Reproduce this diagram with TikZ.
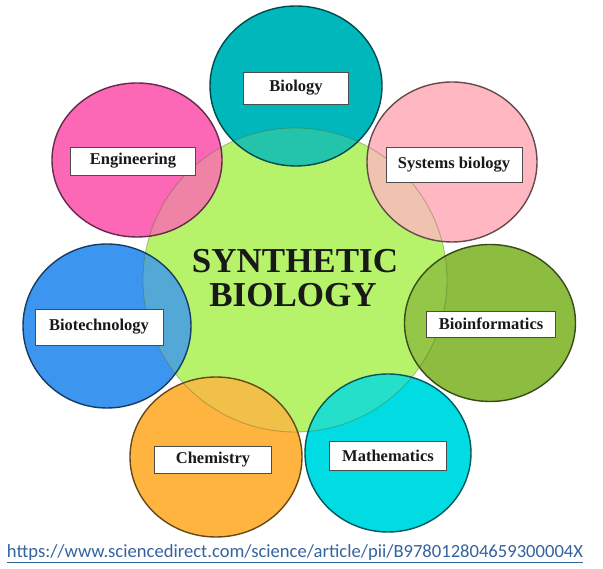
\documentclass[tikz,border=0pt]{standalone}
\usepackage{fontspec}
\setmainfont{Liberation Serif}
\newfontfamily\urlfont{Carlito}
\usetikzlibrary{shapes.geometric}
\definecolor{cgreen}{RGB}{182,242,106}
\definecolor{cteal}{RGB}{0,184,188}
\definecolor{cpink}{RGB}{252,104,182}
\definecolor{clpink}{RGB}{255,184,194}
\definecolor{cblue}{RGB}{60,150,240}
\definecolor{colive}{RGB}{140,188,64}
\definecolor{corange}{RGB}{255,180,64}
\definecolor{ccyan}{RGB}{0,220,226}
\definecolor{curl}{RGB}{52,100,160}
\tikzset{
  petalfill/.style n args={3}{ellipse, fill=#1, minimum width=#2, minimum height=#3, inner sep=0pt},
  petalline/.style n args={3}{ellipse, draw=#1!40!black, line width=1.4pt, minimum width=#2, minimum height=#3, inner sep=0pt},
  labelbox/.style n args={2}{draw=black!70, line width=0.8pt, fill=white, minimum width=#1, minimum height=#2, inner sep=0pt, font=\bfseries\fontsize{16.5}{18}\selectfont, text=black!90},
  bigtext/.style={font=\bfseries\fontsize{35}{35}\selectfont, text=black!90, anchor=base, inner sep=0pt},
  corefill/.style={ellipse, fill=cgreen, minimum width=304, minimum height=304, inner sep=0pt}
}
\newcommand{\petal}[5]{\node[petalfill={#2}{#3}{#4}] (#1) at (#5) {};}
\newcommand{\petalring}[4]{\node[petalline={#2}{#3}{#4}] at (#1) {};}
\begin{document}
\begin{tikzpicture}[x=1pt,y=1pt]
\useasboundingbox (0,0) rectangle (603,569);
\fill[white] (0,0) rectangle (603,569);
% central circle
\node[corefill] (core) at (295,289) {};
% outer circles (fills)
\petal{cbio}{cteal}{172}{160}{296,483}
\petal{csys}{clpink}{170}{160}{452,407}
\petal{ceng}{cpink}{170}{154}{137,409}
\petal{cbtech}{cblue}{168}{164}{107,243}
\petal{cbinf}{colive}{171}{157}{490,246}
\petal{cchem}{corange}{172}{160}{216,112}
\petal{cmath}{ccyan}{166}{158}{388,116}
% translucent green over the overlaps, with a faint ring
\node[corefill, fill opacity=0.2, draw=cgreen!40!black, draw opacity=0.35, line width=0.9pt] (coreveil) at (core) {};
% outer circle rings
\petalring{cbio}{cteal}{172}{160}
\petalring{csys}{clpink}{170}{160}
\petalring{ceng}{cpink}{170}{154}
\petalring{cbtech}{cblue}{168}{164}
\petalring{cbinf}{colive}{171}{157}
\petalring{cchem}{corange}{172}{160}
\petalring{cmath}{ccyan}{166}{158}
% labels
\node[labelbox={105}{32}] (lbio) at (296,481) {Biology};
\node[labelbox={125}{28}] (leng) at (133,408) {Engineering};
\node[labelbox={136}{35}] (lsys) at (454,404) {Systems biology};
\node[labelbox={128}{36}] (lbtech) at (99,242) {Biotechnology};
\node[labelbox={129}{26}] (lbinf) at (491,245) {Bioinformatics};
\node[labelbox={117}{27}] (lchem) at (213,109) {Chemistry};
\node[labelbox={117}{29}] (lmath) at (388,113) {Mathematics};
% central title
\node[bigtext] (t1) at (295,296) {SYNTHETIC};
\node[bigtext] (t2) at (293,262) {BIOLOGY};
% source url
\node[anchor=base, inner sep=0pt, text=curl, font=\urlfont\fontsize{18.6}{20}\selectfont] (url) at (295,11) {\underline{https://www.sciencedirect.com/science/article/pii/B978012804659300004X}};
\end{tikzpicture}
\end{document}
